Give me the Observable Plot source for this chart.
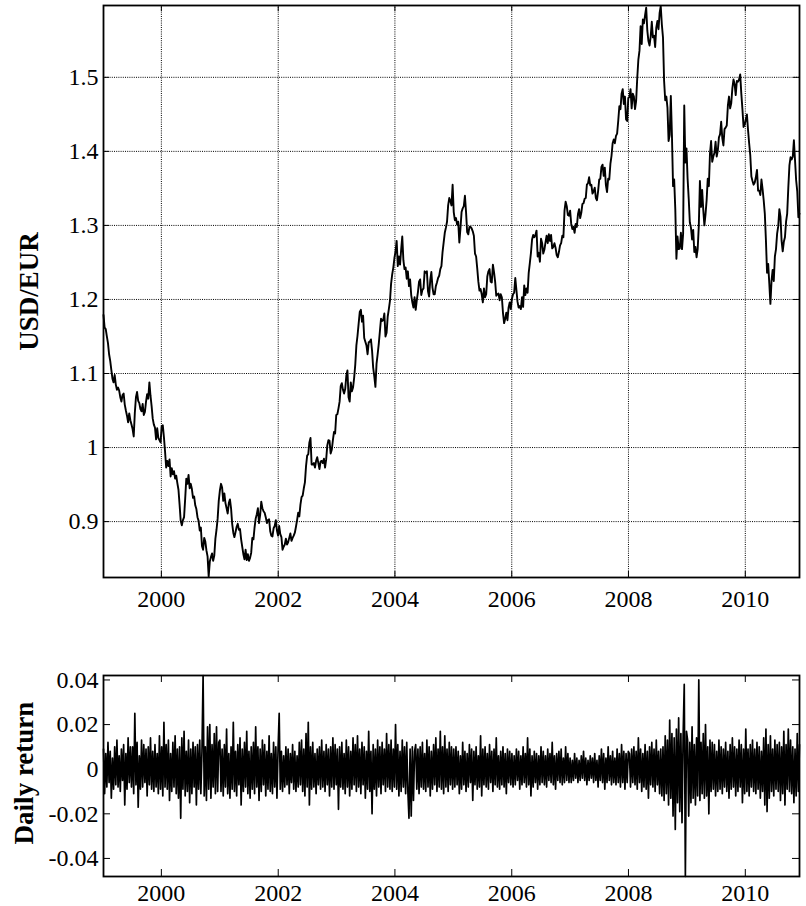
<!DOCTYPE html>
<html>
<head>
<meta charset="utf-8">
<script src="https://cdn.jsdelivr.net/npm/d3@7"></script>
<script src="https://cdn.jsdelivr.net/npm/@observablehq/plot@0.6"></script>
<style>
  html, body { margin: 0; padding: 0; background: #fff; }
  #chart { position: relative; width: 806px; height: 906px; background: #fff; }
  #chart svg { position: absolute; left: 0; }
  #chart svg text { font-family: 'Liberation Serif', 'Times New Roman', serif; }
</style>
</head>
<body>
<div id="chart"></div>
<script>
// ---- Weekly USD/EUR levels (one value per Monday of each year) ----
const years = [1999, 2000, 2001, 2002, 2003, 2004, 2005, 2006, 2007, 2008, 2009, 2010];

const price1999 = [1.179,1.162,1.160,1.150, 1.141,1.126,1.117,1.105, 1.093,1.088,1.098,1.085,1.078, 1.081,1.077,1.068,1.062, 1.071,1.073,1.058,1.050,1.043, 1.034,1.046,1.037,1.031, 1.025,1.015,1.047,1.068, 1.075,1.063,1.060,1.052,1.049, 1.059,1.044,1.048,1.062, 1.072,1.066,1.088,1.070, 1.056,1.039,1.031,1.027,1.011, 1.026,1.013,1.010,1.007];
const price2000 = [1.029,1.030,1.014,0.995,0.973, 0.982,0.975,0.984,0.961, 0.972,0.964,0.968,0.958, 0.962,0.952,0.943,0.923, 0.901,0.895,0.902,0.906,0.931, 0.958,0.951,0.963,0.945, 0.951,0.944,0.932,0.934,0.922, 0.917,0.906,0.901,0.888, 0.892,0.867,0.862,0.878, 0.873,0.861,0.853,0.826,0.846, 0.852,0.857,0.847,0.854, 0.877,0.889,0.904,0.928];
const price2001 = [0.942,0.951,0.946,0.928,0.938, 0.925,0.918,0.911,0.925, 0.930,0.918,0.897,0.885, 0.879,0.886,0.893,0.897,0.889, 0.890,0.876,0.866,0.856, 0.849,0.862,0.848,0.856, 0.847,0.851,0.858,0.878,0.876, 0.892,0.904,0.910,0.918, 0.898,0.909,0.927,0.918, 0.914,0.912,0.906,0.898,0.902, 0.903,0.887,0.881,0.880, 0.891,0.894,0.902,0.888,0.881];
const price2002 = [0.894,0.883,0.879,0.862, 0.866,0.869,0.877,0.869, 0.872,0.878,0.884,0.874, 0.878,0.881,0.885,0.893,0.902, 0.912,0.907,0.923,0.933, 0.935,0.945,0.953,0.975, 0.989,0.991,1.007,1.013,0.977, 0.977,0.979,0.973,0.982, 0.987,0.979,0.971,0.981,0.982, 0.979,0.985,0.973,0.984, 1.003,1.010,1.009,0.992, 0.997,1.010,1.021,1.019,1.044];
const price2003 = [1.045,1.053,1.062,1.083, 1.087,1.078,1.073,1.079, 1.097,1.104,1.068,1.062,1.088, 1.076,1.081,1.094,1.112, 1.138,1.151,1.167,1.183, 1.186,1.170,1.178,1.148,1.143, 1.138,1.126,1.142,1.143, 1.146,1.131,1.108,1.096, 1.082,1.113,1.126,1.140,1.157, 1.174,1.171,1.172,1.181, 1.150,1.155,1.177,1.187, 1.198,1.221,1.234,1.243,1.256];
const price2004 = [1.265,1.279,1.245,1.258, 1.247,1.267,1.285,1.253, 1.241,1.243,1.228,1.238,1.218, 1.227,1.206,1.196,1.189, 1.203,1.186,1.199,1.210,1.224, 1.227,1.206,1.213,1.215, 1.238,1.236,1.238,1.211, 1.204,1.226,1.237,1.216,1.207, 1.207,1.218,1.223,1.229, 1.232,1.241,1.245,1.264, 1.277,1.290,1.297,1.305,1.327, 1.337,1.333,1.327,1.355];
const price2005 = [1.318,1.307,1.310,1.301,1.305, 1.277,1.296,1.318,1.323, 1.326,1.340,1.318,1.291, 1.288,1.298,1.298,1.296, 1.292,1.286,1.262,1.258,1.242, 1.224,1.212,1.214,1.207, 1.196,1.215,1.203,1.207, 1.231,1.238,1.241,1.224,1.223, 1.247,1.237,1.224,1.205, 1.207,1.208,1.199,1.207,1.203, 1.182,1.168,1.174,1.182, 1.172,1.189,1.196,1.187];
const price2006 = [1.201,1.207,1.209,1.229,1.213, 1.197,1.189,1.191,1.187, 1.203,1.190,1.219,1.206, 1.215,1.209,1.236,1.249, 1.263,1.281,1.287,1.284,1.287, 1.293,1.258,1.263,1.251, 1.282,1.276,1.262,1.267,1.277, 1.286,1.276,1.288,1.279, 1.287,1.269,1.271,1.276, 1.270,1.260,1.257,1.264,1.273, 1.276,1.286,1.284,1.320, 1.332,1.326,1.314,1.313];
const price2007 = [1.320,1.302,1.295,1.298,1.290, 1.302,1.298,1.315,1.322, 1.310,1.317,1.329,1.330, 1.336,1.337,1.355,1.357,1.365, 1.354,1.355,1.343,1.346, 1.351,1.337,1.334,1.346, 1.362,1.363,1.379,1.382,1.367, 1.378,1.354,1.345,1.363, 1.362,1.383,1.394,1.411, 1.416,1.411,1.421,1.424,1.441, 1.461,1.457,1.478,1.484, 1.464,1.474,1.443,1.441,1.472];
const price2008 = [1.473,1.484,1.458,1.478, 1.474,1.457,1.468,1.499, 1.524,1.536,1.569,1.545,1.578, 1.573,1.584,1.594,1.563, 1.549,1.543,1.555,1.575, 1.554,1.556,1.541,1.567,1.576, 1.565,1.587,1.596,1.571, 1.554,1.495,1.469,1.474, 1.459,1.414,1.422,1.475,1.422, 1.353,1.362,1.322,1.255, 1.285,1.268,1.269,1.290, 1.268,1.289,1.462,1.385,1.404];
const price2009 = [1.363,1.336,1.304,1.297, 1.281,1.294,1.264,1.271, 1.257,1.268,1.299,1.360,1.325, 1.348,1.321,1.300,1.315, 1.334,1.363,1.353,1.397, 1.414,1.386,1.393,1.398,1.413, 1.393,1.401,1.419,1.423, 1.440,1.418,1.408,1.430,1.432, 1.435,1.462,1.474,1.458, 1.465,1.485,1.497,1.491, 1.476,1.495,1.494,1.497,1.504, 1.478,1.457,1.433,1.436];
const price2010 = [1.443,1.450,1.429,1.411, 1.395,1.366,1.360,1.355, 1.358,1.365,1.375,1.347,1.347, 1.341,1.362,1.349,1.334, 1.316,1.280,1.236,1.248,1.222, 1.194,1.225,1.240,1.225, 1.258,1.268,1.289,1.299, 1.322,1.312,1.279,1.265,1.278, 1.284,1.305,1.316,1.351, 1.381,1.392,1.389,1.393, 1.415,1.388,1.361,1.346,1.311, 1.316];

// ---- Daily returns, in percent (one value per Monday of each year) ----
const return1999 = [0.9,-1.1,0.7,-0.8,1.2,-0.6,0.8,-1.3,0.5,-0.9, 1.0,-0.7,1.3,-0.8,0.6,-1.0,0.9,-0.5,1.1,-1.6, 0.7,-0.9,1.4,-0.6,1.0,-0.8,1.0,-1.1,2.5,-0.7, 1.2,-1.7,0.6,-0.9,1.3,-0.8,1.1,-0.6,0.9,-1.2, 1.0,-0.7,1.4,-0.9,0.8,-1.0,1.1,-0.8,0.7,-1.1, 1.5,-0.9];
const return2000 = [1.0,-1.2,2.1,-0.8,1.1,-0.9,1.3,-1.4,0.7,-1.0, 1.2,-0.8,1.5,-1.1,0.9,-1.3,1.0,-2.2,1.4,-0.9, 1.7,-1.2,0.8,-1.0,1.3,-1.5,0.9,-1.1,1.2,-0.8, 1.0,-1.6,1.1,-0.9,1.3,-1.1,0.8,4.2,-1.2,1.0, -1.4,1.9,-0.9,2.0,-1.3,1.1,-0.8,1.6,-1.1,1.9, -1.0,1.2];
const return2001 = [1.3,-1.0,0.9,-1.2,1.1,-0.8,1.8,-1.1,0.7,-1.3, 1.0,-0.9,2.1,-1.0,0.8,-1.2,1.1,-0.7,1.4,-1.6, 0.9,-1.0,1.2,-0.8,1.7,-1.1,0.8,-1.3,1.0,-0.9, 1.2,-1.1,1.9,-0.8,1.0,-1.4,0.9,-1.0,1.3,-0.7, 1.1,-1.2,0.8,-0.9,1.5,-1.0,0.7,-1.1,1.2,-0.8, 1.0,-1.3,0.9];
const return2002 = [2.5,-0.9,0.8,-1.0,0.6,-0.8,1.0,-0.7,0.9,-1.1, 0.7,-0.6,1.1,-0.9,0.8,-1.0,0.6,-0.8,1.2,-0.7, 1.3,-1.0,0.9,-1.2,1.6,-0.8,2.1,-1.6,1.0,-0.9, 1.2,-0.8,0.7,-1.1,0.9,-0.7,1.0,-0.9,1.3,-0.8, 0.8,-1.0,1.1,-0.7,0.9,-1.2,1.0,-0.8,1.4,-0.9, 1.1,-0.7];
const return2003 = [0.9,-1.8,1.0,-0.8,1.2,-0.9,0.7,-1.1,1.3,-0.8, 1.0,-1.2,0.8,-0.9,1.4,-0.7,1.1,-1.0,1.5,-0.8, 0.9,-1.1,1.2,-0.7,1.0,-1.3,0.8,-0.9,1.7,-1.0, 0.8,-2.0,1.1,-0.9,0.9,-1.2,1.3,-0.8,1.0,-1.1, 1.2,-0.7,0.9,-1.0,1.6,-0.8,1.1,-0.9,1.3,-1.0, 0.9,-0.8];
const return2004 = [2.0,-0.9,1.1,-1.2,0.8,-1.0,1.3,-0.8,1.0,-1.1, 1.2,-1.0,-2.2,0.9,-2.1,1.0,-1.4,0.8,1.1,-0.9, 0.9,-1.1,1.0,-0.8,1.2,-0.9,0.7,-1.0,1.3,-0.8, 1.0,-1.2,0.8,-0.9,1.1,-0.7,1.4,-1.0,0.9,-0.8, 1.7,-0.9,1.0,-1.1,1.5,-0.8,0.9,-1.0,1.2,-0.7, 1.0,-0.9];
const return2005 = [0.9,-0.8,1.0,-0.7,0.8,-1.1,0.6,-0.9,1.2,-0.7, 0.8,-1.0,0.7,-0.8,1.1,-0.6,0.9,-1.4,0.8,-0.7, 1.0,-0.9,0.6,-0.8,1.5,-1.2,0.9,-0.7,1.0,-0.8, 0.7,-0.9,1.1,-0.6,0.8,-1.0,0.9,-0.7,1.4,-0.8, 0.6,-0.9,0.8,-0.7,1.0,-0.8,0.7,-1.1,0.9,-0.6, 0.8,-0.7];
const return2006 = [0.7,-0.8,0.6,-0.7,0.9,-0.5,0.8,-0.9,0.6,-0.7, 1.0,-0.6,0.7,-0.8,1.4,-0.7,0.9,-1.2,0.6,-0.8, 0.8,-0.6,0.7,-0.9,0.6,-0.7,1.0,-0.6,0.8,-0.7, 0.6,-0.8,0.9,-0.5,0.7,-0.6,1.2,-0.7,0.6,-0.9, 0.7,-0.5,0.8,-0.6,0.9,-0.7,0.5,-0.6,1.0,-0.5, 0.7,-0.6];
const return2007 = [0.5,-0.6,0.4,-0.5,0.7,-0.4,0.5,-0.6,0.4,-0.5, 0.6,-0.4,0.8,-0.5,0.5,-0.7,0.4,-0.5,0.6,-0.4, 0.5,-0.6,0.7,-0.5,0.4,-0.8,0.6,-0.5,0.9,-0.6, 0.7,-0.9,0.5,-0.6,1.0,-0.5,0.6,-0.7,0.8,-0.6, 0.5,-0.7,0.9,-0.6,0.7,-0.8,1.1,-0.6,0.8,-0.9, 0.7,-0.6,0.8];
const return2008 = [0.7,-0.8,0.9,-0.6,1.0,-0.7,0.8,-0.9,1.4,-0.6, 0.9,-1.0,0.7,-0.8,1.1,-0.9,0.8,-1.3,1.0,-0.7, 1.2,-0.8,0.9,-1.0,1.3,-0.7,0.8,-1.1,0.9,-1.2, 1.0,-1.4,1.5,-1.1,1.3,-1.6,2.2,-1.3,1.6,-2.1, 1.4,-2.7,1.8,-1.5,2.3,-1.9,1.6,-2.4,1.5,3.8, -4.8,1.7];
const return2009 = [1.3,-2.1,1.2,-1.5,1.9,-1.3,1.1,-1.6,1.4,-1.2, 4.0,-1.4,1.2,-1.1,1.6,-1.3,2.0,-1.2,1.0,-2.0, 1.3,-1.0,1.2,-0.9,1.1,-1.2,0.8,-1.0,1.3,-0.9, 1.0,-1.1,0.9,-0.8,1.2,-1.0,0.8,-1.3,1.1,-0.9, 1.4,-0.8,1.0,-1.2,0.9,-1.0,1.3,-0.8,1.1,-1.5, 0.9,-1.1];
const return2010 = [1.8,-1.0,0.9,-1.2,1.1,-0.8,1.3,-1.0,0.9,-1.1, 1.2,-0.9,1.0,-1.3,0.8,-1.0,1.4,-1.6,1.8,-1.9, 1.1,-1.3,1.5,-1.0,0.9,-1.2,1.3,-0.9,1.1,-1.0, 1.2,-1.4,1.0,-1.1,1.7,-1.6,1.1,-0.9,1.8,-1.0, 1.3,-1.1,1.0,-1.5,0.9,-1.2,1.6,-1.0,1.1];

// ---- Axes ----
const yearTicks = [2000, 2002, 2004, 2006, 2008, 2010];
const rateTicks = [0.9, 1.0, 1.1, 1.2, 1.3, 1.4, 1.5];
const rateTickLabels = ["0.9", "1", "1.1", "1.2", "1.3", "1.4", "1.5"];
const returnTicks = [-0.04, -0.02, 0, 0.02, 0.04];
const returnTickLabels = ["-0.04", "-0.02", "0", "0.02", "0.04"];
const rateDomain = [0.8245, 1.597];
const returnDomain = [-0.0481, 0.0420];
const dateStart = "1999-01-04";
const dateEnd = "2010-12-06";
const rateLabel = "USD/EUR";
const returnLabel = "Daily return";

// ---- Build tables ----
const priceByYear = [price1999, price2000, price2001, price2002, price2003, price2004, price2005, price2006, price2007, price2008, price2009, price2010];
const returnByYear = [return1999, return2000, return2001, return2002, return2003, return2004, return2005, return2006, return2007, return2008, return2009, return2010];

function weeklyRows(series, scale) {
  const rows = [];
  years.forEach((y, k) => {
    const mondays = d3.utcMondays(new Date(Date.UTC(y, 0, 1)), new Date(Date.UTC(y + 1, 0, 1)));
    const vals = series[k];
    const n = Math.min(mondays.length, vals.length);
    for (let i = 0; i < n; i++) rows.push({date: mondays[i], value: vals[i] * scale});
  });
  return rows;
}
const priceRows = weeklyRows(priceByYear, 1);
const returnRows = weeklyRows(returnByYear, 0.01);

const tickDates = yearTicks.map(y => new Date(Date.UTC(y, 0, 1)));
const xDomain = [new Date(dateStart), new Date(dateEnd)];
const fmtYear = d => String(d.getUTCFullYear());

const FONT = "'Liberation Serif', 'Times New Roman', serif";
const W = 806, ML = 103, MR = 7;

function inwardTicks(xt, yt, plotW, plotH, len) {
  return [
    Plot.tickX(xt, {x: d => d, stroke: "#000", strokeWidth: 1, insetTop: plotH - len}),
    Plot.tickX(xt, {x: d => d, stroke: "#000", strokeWidth: 1, insetBottom: plotH - len}),
    Plot.tickY(yt, {y: d => d, stroke: "#000", strokeWidth: 1, insetRight: plotW - len}),
    Plot.tickY(yt, {y: d => d, stroke: "#000", strokeWidth: 1, insetLeft: plotW - len})
  ];
}

// ---- Top panel ----
const topH = 660, topMT = 5, topMB = 83;
const topPlot = Plot.plot({
  width: W, height: topH,
  marginLeft: ML, marginRight: MR, marginTop: topMT, marginBottom: topMB,
  style: {fontFamily: FONT, fontSize: "24px", color: "#000", background: "#fff", overflow: "visible"},
  x: {type: "utc", domain: xDomain},
  y: {domain: rateDomain},
  marks: [
    Plot.gridX(tickDates, {stroke: "#000", strokeOpacity: 1, strokeWidth: 1, strokeDasharray: "1,1.2"}),
    Plot.gridY(rateTicks, {stroke: "#000", strokeOpacity: 1, strokeWidth: 1, strokeDasharray: "1,1.2"}),
    ...inwardTicks(tickDates, rateTicks, W - ML - MR, topH - topMT - topMB, 6),
    Plot.line(priceRows, {x: "date", y: "value", stroke: "#000", strokeWidth: 1.9, curve: "linear"}),
    Plot.frame({stroke: "#000", strokeWidth: 1.8}),
    Plot.axisX(tickDates, {anchor: "bottom", tickSize: 0, tickPadding: 12, tickFormat: fmtYear, label: null, fontSize: 24, fontFamily: FONT}),
    Plot.axisY(rateTicks, {anchor: "left", tickSize: 0, tickPadding: 5, tickFormat: (d, i) => rateTickLabels[i], label: null, fontSize: 24, fontFamily: FONT}),
    Plot.text([rateLabel], {frameAnchor: "left", text: d => d, rotate: -90, dx: -66, lineAnchor: "bottom", textAnchor: "middle", fontWeight: "bold", fontSize: 27, fontFamily: FONT, fill: "#000"})
  ]
});
topPlot.style.top = "0px";

// ---- Bottom panel ----
const botH = 246, botMT = 15, botMB = 30;
const botPlot = Plot.plot({
  width: W, height: botH,
  marginLeft: ML, marginRight: MR, marginTop: botMT, marginBottom: botMB,
  style: {fontFamily: FONT, fontSize: "24px", color: "#000", background: "#fff", overflow: "visible"},
  x: {type: "utc", domain: xDomain},
  y: {domain: returnDomain},
  marks: [
    ...inwardTicks(tickDates, returnTicks, W - ML - MR, botH - botMT - botMB, 7),
    Plot.line(returnRows, {x: "date", y: "value", stroke: "#000", strokeWidth: 1.7, curve: "linear"}),
    Plot.frame({stroke: "#000", strokeWidth: 1.8}),
    Plot.axisX(tickDates, {anchor: "bottom", tickSize: 0, tickPadding: 7, tickFormat: fmtYear, label: null, fontSize: 24, fontFamily: FONT}),
    Plot.axisY(returnTicks, {anchor: "left", tickSize: 0, tickPadding: 5, tickFormat: (d, i) => returnTickLabels[i], label: null, fontSize: 24, fontFamily: FONT}),
    Plot.text([returnLabel], {frameAnchor: "left", text: d => d, rotate: -90, dx: -71, dy: -3, lineAnchor: "bottom", textAnchor: "middle", fontWeight: "bold", fontSize: 27, fontFamily: FONT, fill: "#000"})
  ]
});
botPlot.style.top = "660px";

const chart = document.getElementById("chart");
chart.appendChild(topPlot);
chart.appendChild(botPlot);
</script>
</body>
</html>
